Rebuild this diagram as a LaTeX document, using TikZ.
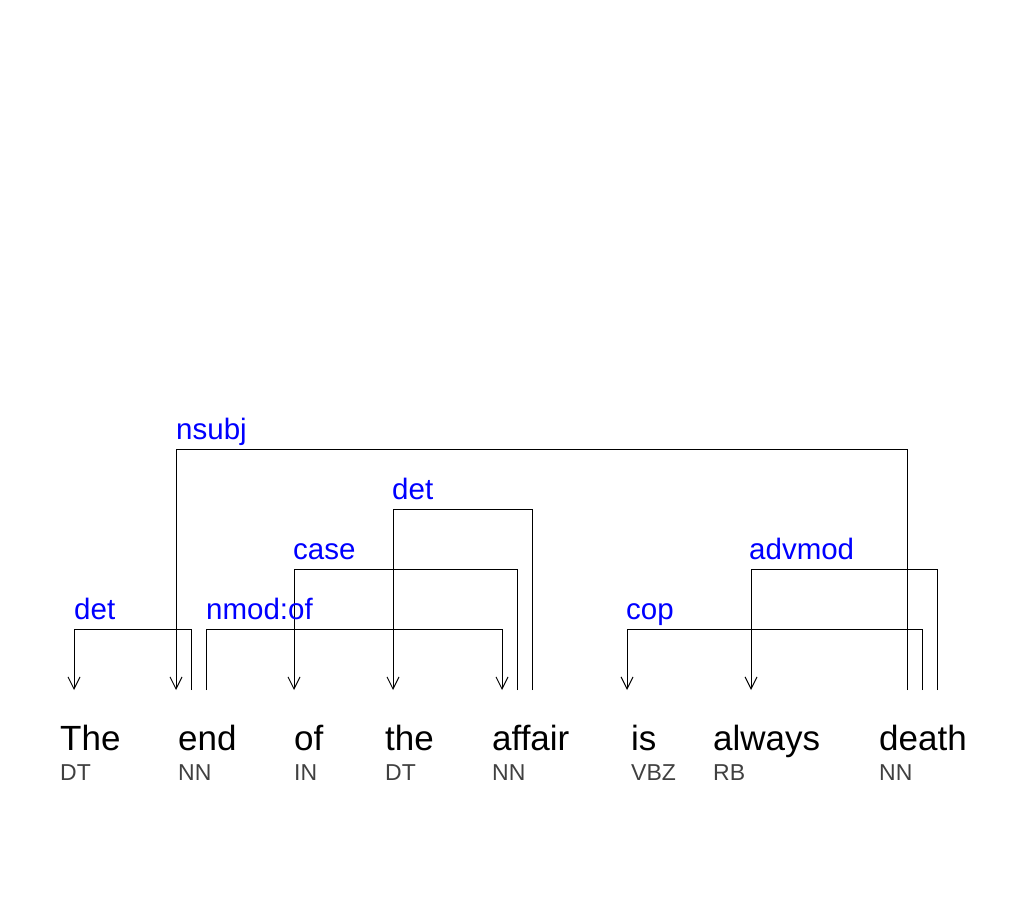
\documentclass[tikz,border=0pt]{standalone}
\usepackage{fontspec}
\setmainfont{Liberation Sans}
\usetikzlibrary{arrows.meta}
\definecolor{tagcol}{RGB}{64,64,64}
\definecolor{relcol}{RGB}{0,0,255}
\begin{document}
\begin{tikzpicture}[x=1pt,y=1pt,
  word/.style={anchor=base west, inner sep=0pt, font=\fontsize{35}{40}\selectfont, text=black},
  tag/.style={anchor=base west, inner sep=0pt, font=\fontsize{23}{26}\selectfont, text=tagcol},
  rel/.style={anchor=base west, inner sep=0pt, font=\fontsize{29.5}{32}\selectfont, text=relcol},
  dep/.style={draw=black, line width=1pt, -{Straight Barb[length=12pt,width=12pt]}}]
\useasboundingbox (0,0) rectangle (1025,900);
% words
\node[word] (w1) at (60,150) {The};
\node[word] (w2) at (178,150) {end};
\node[word] (w3) at (294,150) {of};
\node[word] (w4) at (385,150) {the};
\node[word] (w5) at (492,150) {affair};
\node[word] (w6) at (631,150) {is};
\node[word] (w7) at (713,150) {always};
\node[word] (w8) at (879,150) {death};
% tags
\node[tag] (t1) at (60,120) {DT};
\node[tag] (t2) at (178,120) {NN};
\node[tag] (t3) at (294,120) {IN};
\node[tag] (t4) at (385,120) {DT};
\node[tag] (t5) at (492,120) {NN};
\node[tag] (t6) at (631,120) {VBZ};
\node[tag] (t7) at (713,120) {RB};
\node[tag] (t8) at (879,120) {NN};
% attachment points
\coordinate (theIn) at (74,210);
\coordinate (endIn) at (176,210);
\coordinate (endDet) at (191,210);
\coordinate (endNmod) at (206,210);
\coordinate (ofIn) at (294,210);
\coordinate (theIn2) at (393,210);
\coordinate (affIn) at (502,210);
\coordinate (affCase) at (517,210);
\coordinate (affDet) at (532,210);
\coordinate (isIn) at (627,210);
\coordinate (alwIn) at (751,210);
\coordinate (deaSubj) at (907,210);
\coordinate (deaCop) at (922,210);
\coordinate (deaAdv) at (937,210);
% connectors
\draw[dep] (endDet) -- ++(0,60) -| (theIn);
\draw[dep] (endNmod) -- ++(0,60) -| (affIn);
\draw[dep] (affCase) -- ++(0,120) -| (ofIn);
\draw[dep] (affDet) -- ++(0,180) -| (theIn2);
\draw[dep] (deaSubj) -- ++(0,240) -| (endIn);
\draw[dep] (deaCop) -- ++(0,60) -| (isIn);
\draw[dep] (deaAdv) -- ++(0,120) -| (alwIn);
% labels
\node[rel] (l1) at (74,280) {det};
\node[rel] (l2) at (206,280) {nmod:of};
\node[rel] (l3) at (293,340) {case};
\node[rel] (l4) at (392,400) {det};
\node[rel] (l5) at (176,460) {nsubj};
\node[rel] (l6) at (626,280) {cop};
\node[rel] (l7) at (749,340) {advmod};
\end{tikzpicture}
\end{document}
